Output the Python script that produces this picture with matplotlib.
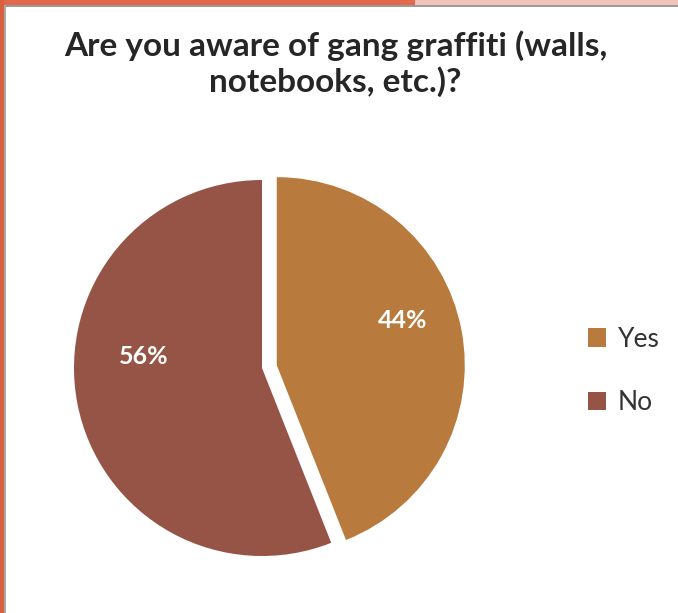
# pie chart: gang graffiti awareness survey
import matplotlib
matplotlib.use("Agg")
import matplotlib.pyplot as plt
from matplotlib.patches import Rectangle

labels = ["Yes", "No"]
values = [44, 56]
colors = ["#B87A3D", "#955445"]
explode = [0.08, 0.0]
# where the percent labels sit (axes data units)
label_pos = [(0.75, 0.25), (-0.63, 0.06)]

W, H = 678, 613
fig = plt.figure(figsize=(W / 100, H / 100), dpi=100)
fig.patch.set_facecolor("white")

# slide frame on the top and left edge
def px_rect(x, y, w, h, c):
    fig.patches.append(Rectangle((x / W, 1 - (y + h) / H), w / W, h / H,
                                 transform=fig.transFigure, color=c, lw=0, zorder=0))

px_rect(0, 0, 415, 5, "#E2674B")
px_rect(415, 0, W - 415, 5, "#F2C3BC")
px_rect(4, 5, W - 4, 2, "#9A9A96")
px_rect(0, 0, 4, H, "#D9603F")
px_rect(4, 5, 2, H - 5, "#A9A9A4")

font = "Lato"
fig.text(0.495, 1 - 64 / H, "Are you aware of gang graffiti (walls,\nnotebooks, etc.)?",
         ha="center", va="center", fontsize=24, fontweight="bold", family=font,
         color="#262626", linespacing=1.2)

r_px = 188
cx, cy = 262, 368
half = 1.2
ax = fig.add_axes([(cx - half * r_px) / W, (H - cy - half * r_px) / H,
                   2 * half * r_px / W, 2 * half * r_px / H])
wedges, texts, autotexts = ax.pie(values, colors=colors, explode=explode, startangle=90,
                                  counterclock=False, autopct="%d%%",
                                  textprops=dict(color="white", fontsize=18,
                                                 fontweight="bold", family=font))
for t, p in zip(autotexts, label_pos):
    t.set_position(p)
ax.set_xlim(-half, half)
ax.set_ylim(-half, half)
ax.set_aspect("equal")
ax.axis("off")

fig.legend(wedges, labels, loc="center left", bbox_to_anchor=(564 / W, 1 - 371 / H),
           frameon=False, prop=dict(family=font, size=19), labelcolor="#333333",
           handlelength=0.7, handleheight=0.7, handletextpad=0.45, labelspacing=1.45)

fig.savefig("out.png", dpi=100)
